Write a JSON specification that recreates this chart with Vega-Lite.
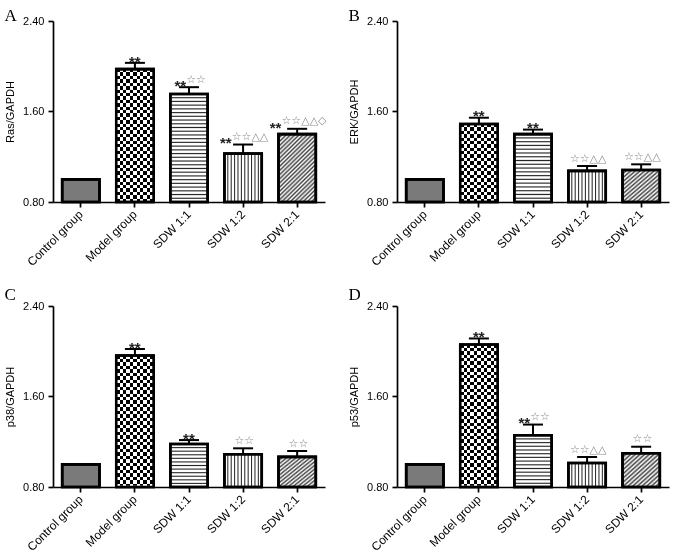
{
  "$schema": "https://vega.github.io/schema/vega-lite/v6.json",
  "padding": {"left": 4, "top": 7, "right": 2, "bottom": 0},
  "background": "white",
  "datasets": {
    "bars": [
      {"panel": "A", "group": "Control group", "value": 1.0, "upper": 1.0, "black": "", "gray": ""},
      {"panel": "A", "group": "Model group", "value": 1.975, "upper": 2.03, "black": "**", "gray": ""},
      {"panel": "A", "group": "SDW 1:1", "value": 1.755, "upper": 1.815, "black": "**", "gray": "☆☆"},
      {"panel": "A", "group": "SDW 1:2", "value": 1.228, "upper": 1.308, "black": "**", "gray": "☆☆△△"},
      {"panel": "A", "group": "SDW 2:1", "value": 1.4, "upper": 1.447, "black": "**", "gray": "☆☆△△◇"},
      {"panel": "B", "group": "Control group", "value": 1.0, "upper": 1.0, "black": "", "gray": ""},
      {"panel": "B", "group": "Model group", "value": 1.49, "upper": 1.545, "black": "**", "gray": ""},
      {"panel": "B", "group": "SDW 1:1", "value": 1.4, "upper": 1.44, "black": "**", "gray": ""},
      {"panel": "B", "group": "SDW 1:2", "value": 1.075, "upper": 1.118, "black": "", "gray": "☆☆△△"},
      {"panel": "B", "group": "SDW 2:1", "value": 1.083, "upper": 1.133, "black": "", "gray": "☆☆△△"},
      {"panel": "C", "group": "Control group", "value": 1.0, "upper": 1.0, "black": "", "gray": ""},
      {"panel": "C", "group": "Model group", "value": 1.963, "upper": 2.02, "black": "**", "gray": ""},
      {"panel": "C", "group": "SDW 1:1", "value": 1.18, "upper": 1.215, "black": "**", "gray": ""},
      {"panel": "C", "group": "SDW 1:2", "value": 1.09, "upper": 1.142, "black": "", "gray": "☆☆"},
      {"panel": "C", "group": "SDW 2:1", "value": 1.066, "upper": 1.118, "black": "", "gray": "☆☆"},
      {"panel": "D", "group": "Control group", "value": 1.0, "upper": 1.0, "black": "", "gray": ""},
      {"panel": "D", "group": "Model group", "value": 2.06, "upper": 2.113, "black": "**", "gray": ""},
      {"panel": "D", "group": "SDW 1:1", "value": 1.258, "upper": 1.352, "black": "**", "gray": "☆☆"},
      {"panel": "D", "group": "SDW 1:2", "value": 1.012, "upper": 1.065, "black": "", "gray": "☆☆△△"},
      {"panel": "D", "group": "SDW 2:1", "value": 1.098, "upper": 1.156, "black": "", "gray": "☆☆"}
    ]
  },
  "columns": 2,
  "bounds": "flush",
  "spacing": {"row": 104, "column": 72},
  "concat": [
    {
      "title": {"text": "A"},
      "width": 272,
      "height": 181,
      "data": {"name": "bars"},
      "transform": [{"filter": "datum.panel == 'A'"}],
      "encoding": {"x": {"field": "group", "type": "nominal", "sort": null, "scale": {"domain": ["Control group", "Model group", "SDW 1:1", "SDW 1:2", "SDW 2:1"], "paddingInner": 0.31, "paddingOuter": 0.17}}},
      "layer": [
        {
          "mark": {"type": "bar", "stroke": "black", "strokeWidth": 2.6},
          "encoding": {
            "y": {"field": "value", "type": "quantitative", "scale": {"domain": [0.8, 2.4], "zero": false, "nice": false}, "axis": {"title": "Ras/GAPDH", "values": [0.8, 1.6, 2.4], "format": ".2f"}},
            "y2": {"datum": 0.8},
            "fill": {
              "condition": [
                {"test": "datum.group == 'Model group'", "value": {"gradient": "linear", "x1": 0, "y1": 0, "x2": 1, "y2": 0, "stops": [
                  {"offset": 0, "color": "#000"}, {"offset": 0.0909, "color": "#000"}, {"offset": 0.0909, "color": "#fff"}, {"offset": 0.1818, "color": "#fff"},
                  {"offset": 0.1818, "color": "#000"}, {"offset": 0.2727, "color": "#000"}, {"offset": 0.2727, "color": "#fff"}, {"offset": 0.3636, "color": "#fff"},
                  {"offset": 0.3636, "color": "#000"}, {"offset": 0.4545, "color": "#000"}, {"offset": 0.4545, "color": "#fff"}, {"offset": 0.5455, "color": "#fff"},
                  {"offset": 0.5455, "color": "#000"}, {"offset": 0.6364, "color": "#000"}, {"offset": 0.6364, "color": "#fff"}, {"offset": 0.7273, "color": "#fff"},
                  {"offset": 0.7273, "color": "#000"}, {"offset": 0.8182, "color": "#000"}, {"offset": 0.8182, "color": "#fff"}, {"offset": 0.9091, "color": "#fff"},
                  {"offset": 0.9091, "color": "#000"}, {"offset": 1, "color": "#000"}]}},
                {"test": "datum.group == 'SDW 1:1'", "value": {"gradient": "linear", "x1": 0, "y1": 0, "x2": 0, "y2": 1, "stops": [
                  {"offset": 0, "color": "#222"}, {"offset": 0.0103, "color": "#fff"}, {"offset": 0.0241, "color": "#fff"},
                  {"offset": 0.0345, "color": "#222"}, {"offset": 0.0448, "color": "#fff"}, {"offset": 0.0586, "color": "#fff"},
                  {"offset": 0.069, "color": "#222"}, {"offset": 0.0793, "color": "#fff"}, {"offset": 0.0931, "color": "#fff"},
                  {"offset": 0.1034, "color": "#222"}, {"offset": 0.1138, "color": "#fff"}, {"offset": 0.1276, "color": "#fff"},
                  {"offset": 0.1379, "color": "#222"}, {"offset": 0.1483, "color": "#fff"}, {"offset": 0.1621, "color": "#fff"},
                  {"offset": 0.1724, "color": "#222"}, {"offset": 0.1828, "color": "#fff"}, {"offset": 0.1966, "color": "#fff"},
                  {"offset": 0.2069, "color": "#222"}, {"offset": 0.2172, "color": "#fff"}, {"offset": 0.231, "color": "#fff"},
                  {"offset": 0.2414, "color": "#222"}, {"offset": 0.2517, "color": "#fff"}, {"offset": 0.2655, "color": "#fff"},
                  {"offset": 0.2759, "color": "#222"}, {"offset": 0.2862, "color": "#fff"}, {"offset": 0.3, "color": "#fff"},
                  {"offset": 0.3103, "color": "#222"}, {"offset": 0.3207, "color": "#fff"}, {"offset": 0.3345, "color": "#fff"},
                  {"offset": 0.3448, "color": "#222"}, {"offset": 0.3552, "color": "#fff"}, {"offset": 0.369, "color": "#fff"},
                  {"offset": 0.3793, "color": "#222"}, {"offset": 0.3897, "color": "#fff"}, {"offset": 0.4034, "color": "#fff"},
                  {"offset": 0.4138, "color": "#222"}, {"offset": 0.4241, "color": "#fff"}, {"offset": 0.4379, "color": "#fff"},
                  {"offset": 0.4483, "color": "#222"}, {"offset": 0.4586, "color": "#fff"}, {"offset": 0.4724, "color": "#fff"},
                  {"offset": 0.4828, "color": "#222"}, {"offset": 0.4931, "color": "#fff"}, {"offset": 0.5069, "color": "#fff"},
                  {"offset": 0.5172, "color": "#222"}, {"offset": 0.5276, "color": "#fff"}, {"offset": 0.5414, "color": "#fff"},
                  {"offset": 0.5517, "color": "#222"}, {"offset": 0.5621, "color": "#fff"}, {"offset": 0.5759, "color": "#fff"},
                  {"offset": 0.5862, "color": "#222"}, {"offset": 0.5966, "color": "#fff"}, {"offset": 0.6103, "color": "#fff"},
                  {"offset": 0.6207, "color": "#222"}, {"offset": 0.631, "color": "#fff"}, {"offset": 0.6448, "color": "#fff"},
                  {"offset": 0.6552, "color": "#222"}, {"offset": 0.6655, "color": "#fff"}, {"offset": 0.6793, "color": "#fff"},
                  {"offset": 0.6897, "color": "#222"}, {"offset": 0.7, "color": "#fff"}, {"offset": 0.7138, "color": "#fff"},
                  {"offset": 0.7241, "color": "#222"}, {"offset": 0.7345, "color": "#fff"}, {"offset": 0.7483, "color": "#fff"},
                  {"offset": 0.7586, "color": "#222"}, {"offset": 0.769, "color": "#fff"}, {"offset": 0.7828, "color": "#fff"},
                  {"offset": 0.7931, "color": "#222"}, {"offset": 0.8034, "color": "#fff"}, {"offset": 0.8172, "color": "#fff"},
                  {"offset": 0.8276, "color": "#222"}, {"offset": 0.8379, "color": "#fff"}, {"offset": 0.8517, "color": "#fff"},
                  {"offset": 0.8621, "color": "#222"}, {"offset": 0.8724, "color": "#fff"}, {"offset": 0.8862, "color": "#fff"},
                  {"offset": 0.8966, "color": "#222"}, {"offset": 0.9069, "color": "#fff"}, {"offset": 0.9207, "color": "#fff"},
                  {"offset": 0.931, "color": "#222"}, {"offset": 0.9414, "color": "#fff"}, {"offset": 0.9552, "color": "#fff"},
                  {"offset": 0.9655, "color": "#222"}, {"offset": 0.9759, "color": "#fff"}, {"offset": 0.9897, "color": "#fff"},
                  {"offset": 1, "color": "#222"}]}},
                {"test": "datum.group == 'SDW 1:2'", "value": {"gradient": "linear", "x1": 0, "y1": 0, "x2": 1, "y2": 0, "stops": [
                  {"offset": 0, "color": "#222"}, {"offset": 0.0273, "color": "#fff"}, {"offset": 0.0636, "color": "#fff"},
                  {"offset": 0.0909, "color": "#222"}, {"offset": 0.1182, "color": "#fff"}, {"offset": 0.1545, "color": "#fff"},
                  {"offset": 0.1818, "color": "#222"}, {"offset": 0.2091, "color": "#fff"}, {"offset": 0.2455, "color": "#fff"},
                  {"offset": 0.2727, "color": "#222"}, {"offset": 0.3, "color": "#fff"}, {"offset": 0.3364, "color": "#fff"},
                  {"offset": 0.3636, "color": "#222"}, {"offset": 0.3909, "color": "#fff"}, {"offset": 0.4273, "color": "#fff"},
                  {"offset": 0.4545, "color": "#222"}, {"offset": 0.4818, "color": "#fff"}, {"offset": 0.5182, "color": "#fff"},
                  {"offset": 0.5455, "color": "#222"}, {"offset": 0.5727, "color": "#fff"}, {"offset": 0.6091, "color": "#fff"},
                  {"offset": 0.6364, "color": "#222"}, {"offset": 0.6636, "color": "#fff"}, {"offset": 0.7, "color": "#fff"},
                  {"offset": 0.7273, "color": "#222"}, {"offset": 0.7545, "color": "#fff"}, {"offset": 0.7909, "color": "#fff"},
                  {"offset": 0.8182, "color": "#222"}, {"offset": 0.8455, "color": "#fff"}, {"offset": 0.8818, "color": "#fff"},
                  {"offset": 0.9091, "color": "#222"}, {"offset": 0.9364, "color": "#fff"}, {"offset": 0.9727, "color": "#fff"},
                  {"offset": 1, "color": "#222"}]}},
                {"test": "datum.group == 'SDW 2:1'", "value": {"gradient": "linear", "x1": 0, "y1": 0, "x2": 0.64, "y2": 1.19, "stops": [
                  {"offset": 0, "color": "#444"}, {"offset": 0.02, "color": "#fff"}, {"offset": 0.04, "color": "#444"}, {"offset": 0.06, "color": "#fff"},
                  {"offset": 0.08, "color": "#444"}, {"offset": 0.1, "color": "#fff"}, {"offset": 0.12, "color": "#444"}, {"offset": 0.14, "color": "#fff"},
                  {"offset": 0.16, "color": "#444"}, {"offset": 0.18, "color": "#fff"}, {"offset": 0.2, "color": "#444"}, {"offset": 0.22, "color": "#fff"},
                  {"offset": 0.24, "color": "#444"}, {"offset": 0.26, "color": "#fff"}, {"offset": 0.28, "color": "#444"}, {"offset": 0.3, "color": "#fff"},
                  {"offset": 0.32, "color": "#444"}, {"offset": 0.34, "color": "#fff"}, {"offset": 0.36, "color": "#444"}, {"offset": 0.38, "color": "#fff"},
                  {"offset": 0.4, "color": "#444"}, {"offset": 0.42, "color": "#fff"}, {"offset": 0.44, "color": "#444"}, {"offset": 0.46, "color": "#fff"},
                  {"offset": 0.48, "color": "#444"}, {"offset": 0.5, "color": "#fff"}, {"offset": 0.52, "color": "#444"}, {"offset": 0.54, "color": "#fff"},
                  {"offset": 0.56, "color": "#444"}, {"offset": 0.58, "color": "#fff"}, {"offset": 0.6, "color": "#444"}, {"offset": 0.62, "color": "#fff"},
                  {"offset": 0.64, "color": "#444"}, {"offset": 0.66, "color": "#fff"}, {"offset": 0.68, "color": "#444"}, {"offset": 0.7, "color": "#fff"},
                  {"offset": 0.72, "color": "#444"}, {"offset": 0.74, "color": "#fff"}, {"offset": 0.76, "color": "#444"}, {"offset": 0.78, "color": "#fff"},
                  {"offset": 0.8, "color": "#444"}, {"offset": 0.82, "color": "#fff"}, {"offset": 0.84, "color": "#444"}, {"offset": 0.86, "color": "#fff"},
                  {"offset": 0.88, "color": "#444"}, {"offset": 0.9, "color": "#fff"}, {"offset": 0.92, "color": "#444"}, {"offset": 0.94, "color": "#fff"},
                  {"offset": 0.96, "color": "#444"}, {"offset": 0.98, "color": "#fff"}, {"offset": 1, "color": "#444"}]}}
              ],
              "value": "#7a7a7a"
            }
          }
        },
        {
          "transform": [{"filter": "datum.group == 'Model group'"}],
          "mark": {"type": "bar", "blend": "difference", "strokeWidth": 0},
          "encoding": {
            "y": {"field": "value", "type": "quantitative", "scale": {"domain": [0.8, 2.4], "zero": false, "nice": false}, "axis": {"title": "Ras/GAPDH", "values": [0.8, 1.6, 2.4], "format": ".2f"}},
            "y2": {"datum": 0.8},
            "fill": {"value": {"gradient": "linear", "x1": 0, "y1": 0, "x2": 0, "y2": 1, "stops": [
              {"offset": 0, "color": "#000"}, {"offset": 0.0256, "color": "#000"}, {"offset": 0.0256, "color": "#fff"}, {"offset": 0.0513, "color": "#fff"},
              {"offset": 0.0513, "color": "#000"}, {"offset": 0.0769, "color": "#000"}, {"offset": 0.0769, "color": "#fff"}, {"offset": 0.1026, "color": "#fff"},
              {"offset": 0.1026, "color": "#000"}, {"offset": 0.1282, "color": "#000"}, {"offset": 0.1282, "color": "#fff"}, {"offset": 0.1538, "color": "#fff"},
              {"offset": 0.1538, "color": "#000"}, {"offset": 0.1795, "color": "#000"}, {"offset": 0.1795, "color": "#fff"}, {"offset": 0.2051, "color": "#fff"},
              {"offset": 0.2051, "color": "#000"}, {"offset": 0.2308, "color": "#000"}, {"offset": 0.2308, "color": "#fff"}, {"offset": 0.2564, "color": "#fff"},
              {"offset": 0.2564, "color": "#000"}, {"offset": 0.2821, "color": "#000"}, {"offset": 0.2821, "color": "#fff"}, {"offset": 0.3077, "color": "#fff"},
              {"offset": 0.3077, "color": "#000"}, {"offset": 0.3333, "color": "#000"}, {"offset": 0.3333, "color": "#fff"}, {"offset": 0.359, "color": "#fff"},
              {"offset": 0.359, "color": "#000"}, {"offset": 0.3846, "color": "#000"}, {"offset": 0.3846, "color": "#fff"}, {"offset": 0.4103, "color": "#fff"},
              {"offset": 0.4103, "color": "#000"}, {"offset": 0.4359, "color": "#000"}, {"offset": 0.4359, "color": "#fff"}, {"offset": 0.4615, "color": "#fff"},
              {"offset": 0.4615, "color": "#000"}, {"offset": 0.4872, "color": "#000"}, {"offset": 0.4872, "color": "#fff"}, {"offset": 0.5128, "color": "#fff"},
              {"offset": 0.5128, "color": "#000"}, {"offset": 0.5385, "color": "#000"}, {"offset": 0.5385, "color": "#fff"}, {"offset": 0.5641, "color": "#fff"},
              {"offset": 0.5641, "color": "#000"}, {"offset": 0.5897, "color": "#000"}, {"offset": 0.5897, "color": "#fff"}, {"offset": 0.6154, "color": "#fff"},
              {"offset": 0.6154, "color": "#000"}, {"offset": 0.641, "color": "#000"}, {"offset": 0.641, "color": "#fff"}, {"offset": 0.6667, "color": "#fff"},
              {"offset": 0.6667, "color": "#000"}, {"offset": 0.6923, "color": "#000"}, {"offset": 0.6923, "color": "#fff"}, {"offset": 0.7179, "color": "#fff"},
              {"offset": 0.7179, "color": "#000"}, {"offset": 0.7436, "color": "#000"}, {"offset": 0.7436, "color": "#fff"}, {"offset": 0.7692, "color": "#fff"},
              {"offset": 0.7692, "color": "#000"}, {"offset": 0.7949, "color": "#000"}, {"offset": 0.7949, "color": "#fff"}, {"offset": 0.8205, "color": "#fff"},
              {"offset": 0.8205, "color": "#000"}, {"offset": 0.8462, "color": "#000"}, {"offset": 0.8462, "color": "#fff"}, {"offset": 0.8718, "color": "#fff"},
              {"offset": 0.8718, "color": "#000"}, {"offset": 0.8974, "color": "#000"}, {"offset": 0.8974, "color": "#fff"}, {"offset": 0.9231, "color": "#fff"},
              {"offset": 0.9231, "color": "#000"}, {"offset": 0.9487, "color": "#000"}, {"offset": 0.9487, "color": "#fff"}, {"offset": 0.9744, "color": "#fff"},
              {"offset": 0.9744, "color": "#000"}, {"offset": 1, "color": "#000"}]}}
          }
        },
        {"mark": {"type": "bar", "fill": "white", "fillOpacity": 0, "stroke": "black", "strokeWidth": 2.6}, "encoding": {"y": {"field": "value", "type": "quantitative", "scale": {"domain": [0.8, 2.4], "zero": false, "nice": false}, "axis": {"title": "Ras/GAPDH", "values": [0.8, 1.6, 2.4], "format": ".2f"}}, "y2": {"datum": 0.8}}},
        {"transform": [{"filter": "datum.upper > datum.value"}], "mark": {"type": "rule", "color": "black", "strokeWidth": 2}, "encoding": {"y": {"field": "value", "type": "quantitative", "scale": {"domain": [0.8, 2.4], "zero": false, "nice": false}, "axis": {"title": "Ras/GAPDH", "values": [0.8, 1.6, 2.4], "format": ".2f"}}, "y2": {"field": "upper"}}},
        {"transform": [{"filter": "datum.upper > datum.value"}], "mark": {"type": "tick", "color": "black", "opacity": 1, "size": 20, "thickness": 2}, "encoding": {"y": {"field": "upper", "type": "quantitative", "scale": {"domain": [0.8, 2.4], "zero": false, "nice": false}, "axis": {"title": "Ras/GAPDH", "values": [0.8, 1.6, 2.4], "format": ".2f"}}}},
        {"mark": {"type": "text", "align": "right", "baseline": "alphabetic", "font": "Liberation Sans", "fontWeight": "bold", "fontSize": 15, "color": "#222", "dy": 3.7, "dx": {"expr": "(length(datum.black)*5.8 - length(datum.gray)*8.6)/2"}}, "encoding": {"y": {"field": "upper", "type": "quantitative", "scale": {"domain": [0.8, 2.4], "zero": false, "nice": false}, "axis": {"title": "Ras/GAPDH", "values": [0.8, 1.6, 2.4], "format": ".2f"}}, "text": {"field": "black"}}},
        {"mark": {"type": "text", "align": "left", "baseline": "alphabetic", "font": "DejaVu Sans", "fontSize": 11, "color": "#8a8a8a", "dy": -4.5, "dx": {"expr": "(length(datum.black)*5.8 - length(datum.gray)*8.6)/2"}}, "encoding": {"y": {"field": "upper", "type": "quantitative", "scale": {"domain": [0.8, 2.4], "zero": false, "nice": false}, "axis": {"title": "Ras/GAPDH", "values": [0.8, 1.6, 2.4], "format": ".2f"}}, "text": {"field": "gray"}}}
      ]
    },
    {
      "title": {"text": "B"},
      "width": 272,
      "height": 181,
      "data": {"name": "bars"},
      "transform": [{"filter": "datum.panel == 'B'"}],
      "encoding": {"x": {"field": "group", "type": "nominal", "sort": null, "scale": {"domain": ["Control group", "Model group", "SDW 1:1", "SDW 1:2", "SDW 2:1"], "paddingInner": 0.31, "paddingOuter": 0.17}}},
      "layer": [
        {
          "mark": {"type": "bar", "stroke": "black", "strokeWidth": 2.6},
          "encoding": {
            "y": {"field": "value", "type": "quantitative", "scale": {"domain": [0.8, 2.4], "zero": false, "nice": false}, "axis": {"title": "ERK/GAPDH", "values": [0.8, 1.6, 2.4], "format": ".2f"}},
            "y2": {"datum": 0.8},
            "fill": {
              "condition": [
                {"test": "datum.group == 'Model group'", "value": {"gradient": "linear", "x1": 0, "y1": 0, "x2": 1, "y2": 0, "stops": [
                  {"offset": 0, "color": "#000"}, {"offset": 0.0909, "color": "#000"}, {"offset": 0.0909, "color": "#fff"}, {"offset": 0.1818, "color": "#fff"},
                  {"offset": 0.1818, "color": "#000"}, {"offset": 0.2727, "color": "#000"}, {"offset": 0.2727, "color": "#fff"}, {"offset": 0.3636, "color": "#fff"},
                  {"offset": 0.3636, "color": "#000"}, {"offset": 0.4545, "color": "#000"}, {"offset": 0.4545, "color": "#fff"}, {"offset": 0.5455, "color": "#fff"},
                  {"offset": 0.5455, "color": "#000"}, {"offset": 0.6364, "color": "#000"}, {"offset": 0.6364, "color": "#fff"}, {"offset": 0.7273, "color": "#fff"},
                  {"offset": 0.7273, "color": "#000"}, {"offset": 0.8182, "color": "#000"}, {"offset": 0.8182, "color": "#fff"}, {"offset": 0.9091, "color": "#fff"},
                  {"offset": 0.9091, "color": "#000"}, {"offset": 1, "color": "#000"}]}},
                {"test": "datum.group == 'SDW 1:1'", "value": {"gradient": "linear", "x1": 0, "y1": 0, "x2": 0, "y2": 1, "stops": [
                  {"offset": 0, "color": "#222"}, {"offset": 0.0167, "color": "#fff"}, {"offset": 0.0389, "color": "#fff"},
                  {"offset": 0.0556, "color": "#222"}, {"offset": 0.0722, "color": "#fff"}, {"offset": 0.0944, "color": "#fff"},
                  {"offset": 0.1111, "color": "#222"}, {"offset": 0.1278, "color": "#fff"}, {"offset": 0.15, "color": "#fff"},
                  {"offset": 0.1667, "color": "#222"}, {"offset": 0.1833, "color": "#fff"}, {"offset": 0.2056, "color": "#fff"},
                  {"offset": 0.2222, "color": "#222"}, {"offset": 0.2389, "color": "#fff"}, {"offset": 0.2611, "color": "#fff"},
                  {"offset": 0.2778, "color": "#222"}, {"offset": 0.2944, "color": "#fff"}, {"offset": 0.3167, "color": "#fff"},
                  {"offset": 0.3333, "color": "#222"}, {"offset": 0.35, "color": "#fff"}, {"offset": 0.3722, "color": "#fff"},
                  {"offset": 0.3889, "color": "#222"}, {"offset": 0.4056, "color": "#fff"}, {"offset": 0.4278, "color": "#fff"},
                  {"offset": 0.4444, "color": "#222"}, {"offset": 0.4611, "color": "#fff"}, {"offset": 0.4833, "color": "#fff"},
                  {"offset": 0.5, "color": "#222"}, {"offset": 0.5167, "color": "#fff"}, {"offset": 0.5389, "color": "#fff"},
                  {"offset": 0.5556, "color": "#222"}, {"offset": 0.5722, "color": "#fff"}, {"offset": 0.5944, "color": "#fff"},
                  {"offset": 0.6111, "color": "#222"}, {"offset": 0.6278, "color": "#fff"}, {"offset": 0.65, "color": "#fff"},
                  {"offset": 0.6667, "color": "#222"}, {"offset": 0.6833, "color": "#fff"}, {"offset": 0.7056, "color": "#fff"},
                  {"offset": 0.7222, "color": "#222"}, {"offset": 0.7389, "color": "#fff"}, {"offset": 0.7611, "color": "#fff"},
                  {"offset": 0.7778, "color": "#222"}, {"offset": 0.7944, "color": "#fff"}, {"offset": 0.8167, "color": "#fff"},
                  {"offset": 0.8333, "color": "#222"}, {"offset": 0.85, "color": "#fff"}, {"offset": 0.8722, "color": "#fff"},
                  {"offset": 0.8889, "color": "#222"}, {"offset": 0.9056, "color": "#fff"}, {"offset": 0.9278, "color": "#fff"},
                  {"offset": 0.9444, "color": "#222"}, {"offset": 0.9611, "color": "#fff"}, {"offset": 0.9833, "color": "#fff"},
                  {"offset": 1, "color": "#222"}]}},
                {"test": "datum.group == 'SDW 1:2'", "value": {"gradient": "linear", "x1": 0, "y1": 0, "x2": 1, "y2": 0, "stops": [
                  {"offset": 0, "color": "#222"}, {"offset": 0.0273, "color": "#fff"}, {"offset": 0.0636, "color": "#fff"},
                  {"offset": 0.0909, "color": "#222"}, {"offset": 0.1182, "color": "#fff"}, {"offset": 0.1545, "color": "#fff"},
                  {"offset": 0.1818, "color": "#222"}, {"offset": 0.2091, "color": "#fff"}, {"offset": 0.2455, "color": "#fff"},
                  {"offset": 0.2727, "color": "#222"}, {"offset": 0.3, "color": "#fff"}, {"offset": 0.3364, "color": "#fff"},
                  {"offset": 0.3636, "color": "#222"}, {"offset": 0.3909, "color": "#fff"}, {"offset": 0.4273, "color": "#fff"},
                  {"offset": 0.4545, "color": "#222"}, {"offset": 0.4818, "color": "#fff"}, {"offset": 0.5182, "color": "#fff"},
                  {"offset": 0.5455, "color": "#222"}, {"offset": 0.5727, "color": "#fff"}, {"offset": 0.6091, "color": "#fff"},
                  {"offset": 0.6364, "color": "#222"}, {"offset": 0.6636, "color": "#fff"}, {"offset": 0.7, "color": "#fff"},
                  {"offset": 0.7273, "color": "#222"}, {"offset": 0.7545, "color": "#fff"}, {"offset": 0.7909, "color": "#fff"},
                  {"offset": 0.8182, "color": "#222"}, {"offset": 0.8455, "color": "#fff"}, {"offset": 0.8818, "color": "#fff"},
                  {"offset": 0.9091, "color": "#222"}, {"offset": 0.9364, "color": "#fff"}, {"offset": 0.9727, "color": "#fff"},
                  {"offset": 1, "color": "#222"}]}},
                {"test": "datum.group == 'SDW 2:1'", "value": {"gradient": "linear", "x1": 0, "y1": 0, "x2": 1, "y2": 1, "stops": [
                  {"offset": 0, "color": "#444"}, {"offset": 0.03125, "color": "#fff"}, {"offset": 0.0625, "color": "#444"}, {"offset": 0.09375, "color": "#fff"},
                  {"offset": 0.125, "color": "#444"}, {"offset": 0.15625, "color": "#fff"}, {"offset": 0.1875, "color": "#444"}, {"offset": 0.21875, "color": "#fff"},
                  {"offset": 0.25, "color": "#444"}, {"offset": 0.28125, "color": "#fff"}, {"offset": 0.3125, "color": "#444"}, {"offset": 0.34375, "color": "#fff"},
                  {"offset": 0.375, "color": "#444"}, {"offset": 0.40625, "color": "#fff"}, {"offset": 0.4375, "color": "#444"}, {"offset": 0.46875, "color": "#fff"},
                  {"offset": 0.5, "color": "#444"}, {"offset": 0.53125, "color": "#fff"}, {"offset": 0.5625, "color": "#444"}, {"offset": 0.59375, "color": "#fff"},
                  {"offset": 0.625, "color": "#444"}, {"offset": 0.65625, "color": "#fff"}, {"offset": 0.6875, "color": "#444"}, {"offset": 0.71875, "color": "#fff"},
                  {"offset": 0.75, "color": "#444"}, {"offset": 0.78125, "color": "#fff"}, {"offset": 0.8125, "color": "#444"}, {"offset": 0.84375, "color": "#fff"},
                  {"offset": 0.875, "color": "#444"}, {"offset": 0.90625, "color": "#fff"}, {"offset": 0.9375, "color": "#444"}, {"offset": 0.96875, "color": "#fff"},
                  {"offset": 1, "color": "#444"}]}}
              ],
              "value": "#7a7a7a"
            }
          }
        },
        {
          "transform": [{"filter": "datum.group == 'Model group'"}],
          "mark": {"type": "bar", "blend": "difference", "strokeWidth": 0},
          "encoding": {
            "y": {"field": "value", "type": "quantitative", "scale": {"domain": [0.8, 2.4], "zero": false, "nice": false}, "axis": {"title": "ERK/GAPDH", "values": [0.8, 1.6, 2.4], "format": ".2f"}},
            "y2": {"datum": 0.8},
            "fill": {"value": {"gradient": "linear", "x1": 0, "y1": 0, "x2": 0, "y2": 1, "stops": [
              {"offset": 0, "color": "#000"}, {"offset": 0.0435, "color": "#000"}, {"offset": 0.0435, "color": "#fff"}, {"offset": 0.087, "color": "#fff"},
              {"offset": 0.087, "color": "#000"}, {"offset": 0.1304, "color": "#000"}, {"offset": 0.1304, "color": "#fff"}, {"offset": 0.1739, "color": "#fff"},
              {"offset": 0.1739, "color": "#000"}, {"offset": 0.2174, "color": "#000"}, {"offset": 0.2174, "color": "#fff"}, {"offset": 0.2609, "color": "#fff"},
              {"offset": 0.2609, "color": "#000"}, {"offset": 0.3043, "color": "#000"}, {"offset": 0.3043, "color": "#fff"}, {"offset": 0.3478, "color": "#fff"},
              {"offset": 0.3478, "color": "#000"}, {"offset": 0.3913, "color": "#000"}, {"offset": 0.3913, "color": "#fff"}, {"offset": 0.4348, "color": "#fff"},
              {"offset": 0.4348, "color": "#000"}, {"offset": 0.4783, "color": "#000"}, {"offset": 0.4783, "color": "#fff"}, {"offset": 0.5217, "color": "#fff"},
              {"offset": 0.5217, "color": "#000"}, {"offset": 0.5652, "color": "#000"}, {"offset": 0.5652, "color": "#fff"}, {"offset": 0.6087, "color": "#fff"},
              {"offset": 0.6087, "color": "#000"}, {"offset": 0.6522, "color": "#000"}, {"offset": 0.6522, "color": "#fff"}, {"offset": 0.6957, "color": "#fff"},
              {"offset": 0.6957, "color": "#000"}, {"offset": 0.7391, "color": "#000"}, {"offset": 0.7391, "color": "#fff"}, {"offset": 0.7826, "color": "#fff"},
              {"offset": 0.7826, "color": "#000"}, {"offset": 0.8261, "color": "#000"}, {"offset": 0.8261, "color": "#fff"}, {"offset": 0.8696, "color": "#fff"},
              {"offset": 0.8696, "color": "#000"}, {"offset": 0.913, "color": "#000"}, {"offset": 0.913, "color": "#fff"}, {"offset": 0.9565, "color": "#fff"},
              {"offset": 0.9565, "color": "#000"}, {"offset": 1, "color": "#000"}]}}
          }
        },
        {"mark": {"type": "bar", "fill": "white", "fillOpacity": 0, "stroke": "black", "strokeWidth": 2.6}, "encoding": {"y": {"field": "value", "type": "quantitative", "scale": {"domain": [0.8, 2.4], "zero": false, "nice": false}, "axis": {"title": "ERK/GAPDH", "values": [0.8, 1.6, 2.4], "format": ".2f"}}, "y2": {"datum": 0.8}}},
        {"transform": [{"filter": "datum.upper > datum.value"}], "mark": {"type": "rule", "color": "black", "strokeWidth": 2}, "encoding": {"y": {"field": "value", "type": "quantitative", "scale": {"domain": [0.8, 2.4], "zero": false, "nice": false}, "axis": {"title": "ERK/GAPDH", "values": [0.8, 1.6, 2.4], "format": ".2f"}}, "y2": {"field": "upper"}}},
        {"transform": [{"filter": "datum.upper > datum.value"}], "mark": {"type": "tick", "color": "black", "opacity": 1, "size": 20, "thickness": 2}, "encoding": {"y": {"field": "upper", "type": "quantitative", "scale": {"domain": [0.8, 2.4], "zero": false, "nice": false}, "axis": {"title": "ERK/GAPDH", "values": [0.8, 1.6, 2.4], "format": ".2f"}}}},
        {"mark": {"type": "text", "align": "right", "baseline": "alphabetic", "font": "Liberation Sans", "fontWeight": "bold", "fontSize": 15, "color": "#222", "dy": 3.7, "dx": {"expr": "(length(datum.black)*5.8 - length(datum.gray)*8.6)/2"}}, "encoding": {"y": {"field": "upper", "type": "quantitative", "scale": {"domain": [0.8, 2.4], "zero": false, "nice": false}, "axis": {"title": "ERK/GAPDH", "values": [0.8, 1.6, 2.4], "format": ".2f"}}, "text": {"field": "black"}}},
        {"mark": {"type": "text", "align": "left", "baseline": "alphabetic", "font": "DejaVu Sans", "fontSize": 11, "color": "#8a8a8a", "dy": -4.5, "dx": {"expr": "(length(datum.black)*5.8 - length(datum.gray)*8.6)/2"}}, "encoding": {"y": {"field": "upper", "type": "quantitative", "scale": {"domain": [0.8, 2.4], "zero": false, "nice": false}, "axis": {"title": "ERK/GAPDH", "values": [0.8, 1.6, 2.4], "format": ".2f"}}, "text": {"field": "gray"}}}
      ]
    },
    {
      "title": {"text": "C", "offset": -4},
      "width": 272,
      "height": 181,
      "data": {"name": "bars"},
      "transform": [{"filter": "datum.panel == 'C'"}],
      "encoding": {"x": {"field": "group", "type": "nominal", "sort": null, "scale": {"domain": ["Control group", "Model group", "SDW 1:1", "SDW 1:2", "SDW 2:1"], "paddingInner": 0.31, "paddingOuter": 0.17}}},
      "layer": [
        {
          "mark": {"type": "bar", "stroke": "black", "strokeWidth": 2.6},
          "encoding": {
            "y": {"field": "value", "type": "quantitative", "scale": {"domain": [0.8, 2.4], "zero": false, "nice": false}, "axis": {"title": "p38/GAPDH", "values": [0.8, 1.6, 2.4], "format": ".2f"}},
            "y2": {"datum": 0.8},
            "fill": {
              "condition": [
                {"test": "datum.group == 'Model group'", "value": {"gradient": "linear", "x1": 0, "y1": 0, "x2": 1, "y2": 0, "stops": [
                  {"offset": 0, "color": "#000"}, {"offset": 0.0909, "color": "#000"}, {"offset": 0.0909, "color": "#fff"}, {"offset": 0.1818, "color": "#fff"},
                  {"offset": 0.1818, "color": "#000"}, {"offset": 0.2727, "color": "#000"}, {"offset": 0.2727, "color": "#fff"}, {"offset": 0.3636, "color": "#fff"},
                  {"offset": 0.3636, "color": "#000"}, {"offset": 0.4545, "color": "#000"}, {"offset": 0.4545, "color": "#fff"}, {"offset": 0.5455, "color": "#fff"},
                  {"offset": 0.5455, "color": "#000"}, {"offset": 0.6364, "color": "#000"}, {"offset": 0.6364, "color": "#fff"}, {"offset": 0.7273, "color": "#fff"},
                  {"offset": 0.7273, "color": "#000"}, {"offset": 0.8182, "color": "#000"}, {"offset": 0.8182, "color": "#fff"}, {"offset": 0.9091, "color": "#fff"},
                  {"offset": 0.9091, "color": "#000"}, {"offset": 1, "color": "#000"}]}},
                {"test": "datum.group == 'SDW 1:1'", "value": {"gradient": "linear", "x1": 0, "y1": 0, "x2": 0, "y2": 1, "stops": [
                  {"offset": 0, "color": "#222"}, {"offset": 0.025, "color": "#fff"}, {"offset": 0.0583, "color": "#fff"},
                  {"offset": 0.0833, "color": "#222"}, {"offset": 0.1083, "color": "#fff"}, {"offset": 0.1417, "color": "#fff"},
                  {"offset": 0.1667, "color": "#222"}, {"offset": 0.1917, "color": "#fff"}, {"offset": 0.225, "color": "#fff"},
                  {"offset": 0.25, "color": "#222"}, {"offset": 0.275, "color": "#fff"}, {"offset": 0.3083, "color": "#fff"},
                  {"offset": 0.3333, "color": "#222"}, {"offset": 0.3583, "color": "#fff"}, {"offset": 0.3917, "color": "#fff"},
                  {"offset": 0.4167, "color": "#222"}, {"offset": 0.4417, "color": "#fff"}, {"offset": 0.475, "color": "#fff"},
                  {"offset": 0.5, "color": "#222"}, {"offset": 0.525, "color": "#fff"}, {"offset": 0.5583, "color": "#fff"},
                  {"offset": 0.5833, "color": "#222"}, {"offset": 0.6083, "color": "#fff"}, {"offset": 0.6417, "color": "#fff"},
                  {"offset": 0.6667, "color": "#222"}, {"offset": 0.6917, "color": "#fff"}, {"offset": 0.725, "color": "#fff"},
                  {"offset": 0.75, "color": "#222"}, {"offset": 0.775, "color": "#fff"}, {"offset": 0.8083, "color": "#fff"},
                  {"offset": 0.8333, "color": "#222"}, {"offset": 0.8583, "color": "#fff"}, {"offset": 0.8917, "color": "#fff"},
                  {"offset": 0.9167, "color": "#222"}, {"offset": 0.9417, "color": "#fff"}, {"offset": 0.975, "color": "#fff"},
                  {"offset": 1, "color": "#222"}]}},
                {"test": "datum.group == 'SDW 1:2'", "value": {"gradient": "linear", "x1": 0, "y1": 0, "x2": 1, "y2": 0, "stops": [
                  {"offset": 0, "color": "#222"}, {"offset": 0.0273, "color": "#fff"}, {"offset": 0.0636, "color": "#fff"},
                  {"offset": 0.0909, "color": "#222"}, {"offset": 0.1182, "color": "#fff"}, {"offset": 0.1545, "color": "#fff"},
                  {"offset": 0.1818, "color": "#222"}, {"offset": 0.2091, "color": "#fff"}, {"offset": 0.2455, "color": "#fff"},
                  {"offset": 0.2727, "color": "#222"}, {"offset": 0.3, "color": "#fff"}, {"offset": 0.3364, "color": "#fff"},
                  {"offset": 0.3636, "color": "#222"}, {"offset": 0.3909, "color": "#fff"}, {"offset": 0.4273, "color": "#fff"},
                  {"offset": 0.4545, "color": "#222"}, {"offset": 0.4818, "color": "#fff"}, {"offset": 0.5182, "color": "#fff"},
                  {"offset": 0.5455, "color": "#222"}, {"offset": 0.5727, "color": "#fff"}, {"offset": 0.6091, "color": "#fff"},
                  {"offset": 0.6364, "color": "#222"}, {"offset": 0.6636, "color": "#fff"}, {"offset": 0.7, "color": "#fff"},
                  {"offset": 0.7273, "color": "#222"}, {"offset": 0.7545, "color": "#fff"}, {"offset": 0.7909, "color": "#fff"},
                  {"offset": 0.8182, "color": "#222"}, {"offset": 0.8455, "color": "#fff"}, {"offset": 0.8818, "color": "#fff"},
                  {"offset": 0.9091, "color": "#222"}, {"offset": 0.9364, "color": "#fff"}, {"offset": 0.9727, "color": "#fff"},
                  {"offset": 1, "color": "#222"}]}},
                {"test": "datum.group == 'SDW 2:1'", "value": {"gradient": "linear", "x1": 0, "y1": 0, "x2": 1, "y2": 1, "stops": [
                  {"offset": 0, "color": "#444"}, {"offset": 0.03125, "color": "#fff"}, {"offset": 0.0625, "color": "#444"}, {"offset": 0.09375, "color": "#fff"},
                  {"offset": 0.125, "color": "#444"}, {"offset": 0.15625, "color": "#fff"}, {"offset": 0.1875, "color": "#444"}, {"offset": 0.21875, "color": "#fff"},
                  {"offset": 0.25, "color": "#444"}, {"offset": 0.28125, "color": "#fff"}, {"offset": 0.3125, "color": "#444"}, {"offset": 0.34375, "color": "#fff"},
                  {"offset": 0.375, "color": "#444"}, {"offset": 0.40625, "color": "#fff"}, {"offset": 0.4375, "color": "#444"}, {"offset": 0.46875, "color": "#fff"},
                  {"offset": 0.5, "color": "#444"}, {"offset": 0.53125, "color": "#fff"}, {"offset": 0.5625, "color": "#444"}, {"offset": 0.59375, "color": "#fff"},
                  {"offset": 0.625, "color": "#444"}, {"offset": 0.65625, "color": "#fff"}, {"offset": 0.6875, "color": "#444"}, {"offset": 0.71875, "color": "#fff"},
                  {"offset": 0.75, "color": "#444"}, {"offset": 0.78125, "color": "#fff"}, {"offset": 0.8125, "color": "#444"}, {"offset": 0.84375, "color": "#fff"},
                  {"offset": 0.875, "color": "#444"}, {"offset": 0.90625, "color": "#fff"}, {"offset": 0.9375, "color": "#444"}, {"offset": 0.96875, "color": "#fff"},
                  {"offset": 1, "color": "#444"}]}}
              ],
              "value": "#7a7a7a"
            }
          }
        },
        {
          "transform": [{"filter": "datum.group == 'Model group'"}],
          "mark": {"type": "bar", "blend": "difference", "strokeWidth": 0},
          "encoding": {
            "y": {"field": "value", "type": "quantitative", "scale": {"domain": [0.8, 2.4], "zero": false, "nice": false}, "axis": {"title": "p38/GAPDH", "values": [0.8, 1.6, 2.4], "format": ".2f"}},
            "y2": {"datum": 0.8},
            "fill": {"value": {"gradient": "linear", "x1": 0, "y1": 0, "x2": 0, "y2": 1, "stops": [
              {"offset": 0, "color": "#000"}, {"offset": 0.0263, "color": "#000"}, {"offset": 0.0263, "color": "#fff"}, {"offset": 0.0526, "color": "#fff"},
              {"offset": 0.0526, "color": "#000"}, {"offset": 0.0789, "color": "#000"}, {"offset": 0.0789, "color": "#fff"}, {"offset": 0.1053, "color": "#fff"},
              {"offset": 0.1053, "color": "#000"}, {"offset": 0.1316, "color": "#000"}, {"offset": 0.1316, "color": "#fff"}, {"offset": 0.1579, "color": "#fff"},
              {"offset": 0.1579, "color": "#000"}, {"offset": 0.1842, "color": "#000"}, {"offset": 0.1842, "color": "#fff"}, {"offset": 0.2105, "color": "#fff"},
              {"offset": 0.2105, "color": "#000"}, {"offset": 0.2368, "color": "#000"}, {"offset": 0.2368, "color": "#fff"}, {"offset": 0.2632, "color": "#fff"},
              {"offset": 0.2632, "color": "#000"}, {"offset": 0.2895, "color": "#000"}, {"offset": 0.2895, "color": "#fff"}, {"offset": 0.3158, "color": "#fff"},
              {"offset": 0.3158, "color": "#000"}, {"offset": 0.3421, "color": "#000"}, {"offset": 0.3421, "color": "#fff"}, {"offset": 0.3684, "color": "#fff"},
              {"offset": 0.3684, "color": "#000"}, {"offset": 0.3947, "color": "#000"}, {"offset": 0.3947, "color": "#fff"}, {"offset": 0.4211, "color": "#fff"},
              {"offset": 0.4211, "color": "#000"}, {"offset": 0.4474, "color": "#000"}, {"offset": 0.4474, "color": "#fff"}, {"offset": 0.4737, "color": "#fff"},
              {"offset": 0.4737, "color": "#000"}, {"offset": 0.5, "color": "#000"}, {"offset": 0.5, "color": "#fff"}, {"offset": 0.5263, "color": "#fff"},
              {"offset": 0.5263, "color": "#000"}, {"offset": 0.5526, "color": "#000"}, {"offset": 0.5526, "color": "#fff"}, {"offset": 0.5789, "color": "#fff"},
              {"offset": 0.5789, "color": "#000"}, {"offset": 0.6053, "color": "#000"}, {"offset": 0.6053, "color": "#fff"}, {"offset": 0.6316, "color": "#fff"},
              {"offset": 0.6316, "color": "#000"}, {"offset": 0.6579, "color": "#000"}, {"offset": 0.6579, "color": "#fff"}, {"offset": 0.6842, "color": "#fff"},
              {"offset": 0.6842, "color": "#000"}, {"offset": 0.7105, "color": "#000"}, {"offset": 0.7105, "color": "#fff"}, {"offset": 0.7368, "color": "#fff"},
              {"offset": 0.7368, "color": "#000"}, {"offset": 0.7632, "color": "#000"}, {"offset": 0.7632, "color": "#fff"}, {"offset": 0.7895, "color": "#fff"},
              {"offset": 0.7895, "color": "#000"}, {"offset": 0.8158, "color": "#000"}, {"offset": 0.8158, "color": "#fff"}, {"offset": 0.8421, "color": "#fff"},
              {"offset": 0.8421, "color": "#000"}, {"offset": 0.8684, "color": "#000"}, {"offset": 0.8684, "color": "#fff"}, {"offset": 0.8947, "color": "#fff"},
              {"offset": 0.8947, "color": "#000"}, {"offset": 0.9211, "color": "#000"}, {"offset": 0.9211, "color": "#fff"}, {"offset": 0.9474, "color": "#fff"},
              {"offset": 0.9474, "color": "#000"}, {"offset": 0.9737, "color": "#000"}, {"offset": 0.9737, "color": "#fff"}, {"offset": 1, "color": "#fff"}]}}
          }
        },
        {"mark": {"type": "bar", "fill": "white", "fillOpacity": 0, "stroke": "black", "strokeWidth": 2.6}, "encoding": {"y": {"field": "value", "type": "quantitative", "scale": {"domain": [0.8, 2.4], "zero": false, "nice": false}, "axis": {"title": "p38/GAPDH", "values": [0.8, 1.6, 2.4], "format": ".2f"}}, "y2": {"datum": 0.8}}},
        {"transform": [{"filter": "datum.upper > datum.value"}], "mark": {"type": "rule", "color": "black", "strokeWidth": 2}, "encoding": {"y": {"field": "value", "type": "quantitative", "scale": {"domain": [0.8, 2.4], "zero": false, "nice": false}, "axis": {"title": "p38/GAPDH", "values": [0.8, 1.6, 2.4], "format": ".2f"}}, "y2": {"field": "upper"}}},
        {"transform": [{"filter": "datum.upper > datum.value"}], "mark": {"type": "tick", "color": "black", "opacity": 1, "size": 20, "thickness": 2}, "encoding": {"y": {"field": "upper", "type": "quantitative", "scale": {"domain": [0.8, 2.4], "zero": false, "nice": false}, "axis": {"title": "p38/GAPDH", "values": [0.8, 1.6, 2.4], "format": ".2f"}}}},
        {"mark": {"type": "text", "align": "right", "baseline": "alphabetic", "font": "Liberation Sans", "fontWeight": "bold", "fontSize": 15, "color": "#222", "dy": 3.7, "dx": {"expr": "(length(datum.black)*5.8 - length(datum.gray)*8.6)/2"}}, "encoding": {"y": {"field": "upper", "type": "quantitative", "scale": {"domain": [0.8, 2.4], "zero": false, "nice": false}, "axis": {"title": "p38/GAPDH", "values": [0.8, 1.6, 2.4], "format": ".2f"}}, "text": {"field": "black"}}},
        {"mark": {"type": "text", "align": "left", "baseline": "alphabetic", "font": "DejaVu Sans", "fontSize": 11, "color": "#8a8a8a", "dy": -4.5, "dx": {"expr": "(length(datum.black)*5.8 - length(datum.gray)*8.6)/2"}}, "encoding": {"y": {"field": "upper", "type": "quantitative", "scale": {"domain": [0.8, 2.4], "zero": false, "nice": false}, "axis": {"title": "p38/GAPDH", "values": [0.8, 1.6, 2.4], "format": ".2f"}}, "text": {"field": "gray"}}}
      ]
    },
    {
      "title": {"text": "D", "offset": -4},
      "width": 272,
      "height": 181,
      "data": {"name": "bars"},
      "transform": [{"filter": "datum.panel == 'D'"}],
      "encoding": {"x": {"field": "group", "type": "nominal", "sort": null, "scale": {"domain": ["Control group", "Model group", "SDW 1:1", "SDW 1:2", "SDW 2:1"], "paddingInner": 0.31, "paddingOuter": 0.17}}},
      "layer": [
        {
          "mark": {"type": "bar", "stroke": "black", "strokeWidth": 2.6},
          "encoding": {
            "y": {"field": "value", "type": "quantitative", "scale": {"domain": [0.8, 2.4], "zero": false, "nice": false}, "axis": {"title": "p53/GAPDH", "values": [0.8, 1.6, 2.4], "format": ".2f"}},
            "y2": {"datum": 0.8},
            "fill": {
              "condition": [
                {"test": "datum.group == 'Model group'", "value": {"gradient": "linear", "x1": 0, "y1": 0, "x2": 1, "y2": 0, "stops": [
                  {"offset": 0, "color": "#000"}, {"offset": 0.0909, "color": "#000"}, {"offset": 0.0909, "color": "#fff"}, {"offset": 0.1818, "color": "#fff"},
                  {"offset": 0.1818, "color": "#000"}, {"offset": 0.2727, "color": "#000"}, {"offset": 0.2727, "color": "#fff"}, {"offset": 0.3636, "color": "#fff"},
                  {"offset": 0.3636, "color": "#000"}, {"offset": 0.4545, "color": "#000"}, {"offset": 0.4545, "color": "#fff"}, {"offset": 0.5455, "color": "#fff"},
                  {"offset": 0.5455, "color": "#000"}, {"offset": 0.6364, "color": "#000"}, {"offset": 0.6364, "color": "#fff"}, {"offset": 0.7273, "color": "#fff"},
                  {"offset": 0.7273, "color": "#000"}, {"offset": 0.8182, "color": "#000"}, {"offset": 0.8182, "color": "#fff"}, {"offset": 0.9091, "color": "#fff"},
                  {"offset": 0.9091, "color": "#000"}, {"offset": 1, "color": "#000"}]}},
                {"test": "datum.group == 'SDW 1:1'", "value": {"gradient": "linear", "x1": 0, "y1": 0, "x2": 0, "y2": 1, "stops": [
                  {"offset": 0, "color": "#222"}, {"offset": 0.0214, "color": "#fff"}, {"offset": 0.05, "color": "#fff"},
                  {"offset": 0.0714, "color": "#222"}, {"offset": 0.0929, "color": "#fff"}, {"offset": 0.1214, "color": "#fff"},
                  {"offset": 0.1429, "color": "#222"}, {"offset": 0.1643, "color": "#fff"}, {"offset": 0.1929, "color": "#fff"},
                  {"offset": 0.2143, "color": "#222"}, {"offset": 0.2357, "color": "#fff"}, {"offset": 0.2643, "color": "#fff"},
                  {"offset": 0.2857, "color": "#222"}, {"offset": 0.3071, "color": "#fff"}, {"offset": 0.3357, "color": "#fff"},
                  {"offset": 0.3571, "color": "#222"}, {"offset": 0.3786, "color": "#fff"}, {"offset": 0.4071, "color": "#fff"},
                  {"offset": 0.4286, "color": "#222"}, {"offset": 0.45, "color": "#fff"}, {"offset": 0.4786, "color": "#fff"},
                  {"offset": 0.5, "color": "#222"}, {"offset": 0.5214, "color": "#fff"}, {"offset": 0.55, "color": "#fff"},
                  {"offset": 0.5714, "color": "#222"}, {"offset": 0.5929, "color": "#fff"}, {"offset": 0.6214, "color": "#fff"},
                  {"offset": 0.6429, "color": "#222"}, {"offset": 0.6643, "color": "#fff"}, {"offset": 0.6929, "color": "#fff"},
                  {"offset": 0.7143, "color": "#222"}, {"offset": 0.7357, "color": "#fff"}, {"offset": 0.7643, "color": "#fff"},
                  {"offset": 0.7857, "color": "#222"}, {"offset": 0.8071, "color": "#fff"}, {"offset": 0.8357, "color": "#fff"},
                  {"offset": 0.8571, "color": "#222"}, {"offset": 0.8786, "color": "#fff"}, {"offset": 0.9071, "color": "#fff"},
                  {"offset": 0.9286, "color": "#222"}, {"offset": 0.95, "color": "#fff"}, {"offset": 0.9786, "color": "#fff"},
                  {"offset": 1, "color": "#222"}]}},
                {"test": "datum.group == 'SDW 1:2'", "value": {"gradient": "linear", "x1": 0, "y1": 0, "x2": 1, "y2": 0, "stops": [
                  {"offset": 0, "color": "#222"}, {"offset": 0.0273, "color": "#fff"}, {"offset": 0.0636, "color": "#fff"},
                  {"offset": 0.0909, "color": "#222"}, {"offset": 0.1182, "color": "#fff"}, {"offset": 0.1545, "color": "#fff"},
                  {"offset": 0.1818, "color": "#222"}, {"offset": 0.2091, "color": "#fff"}, {"offset": 0.2455, "color": "#fff"},
                  {"offset": 0.2727, "color": "#222"}, {"offset": 0.3, "color": "#fff"}, {"offset": 0.3364, "color": "#fff"},
                  {"offset": 0.3636, "color": "#222"}, {"offset": 0.3909, "color": "#fff"}, {"offset": 0.4273, "color": "#fff"},
                  {"offset": 0.4545, "color": "#222"}, {"offset": 0.4818, "color": "#fff"}, {"offset": 0.5182, "color": "#fff"},
                  {"offset": 0.5455, "color": "#222"}, {"offset": 0.5727, "color": "#fff"}, {"offset": 0.6091, "color": "#fff"},
                  {"offset": 0.6364, "color": "#222"}, {"offset": 0.6636, "color": "#fff"}, {"offset": 0.7, "color": "#fff"},
                  {"offset": 0.7273, "color": "#222"}, {"offset": 0.7545, "color": "#fff"}, {"offset": 0.7909, "color": "#fff"},
                  {"offset": 0.8182, "color": "#222"}, {"offset": 0.8455, "color": "#fff"}, {"offset": 0.8818, "color": "#fff"},
                  {"offset": 0.9091, "color": "#222"}, {"offset": 0.9364, "color": "#fff"}, {"offset": 0.9727, "color": "#fff"},
                  {"offset": 1, "color": "#222"}]}},
                {"test": "datum.group == 'SDW 2:1'", "value": {"gradient": "linear", "x1": 0, "y1": 0, "x2": 1, "y2": 1, "stops": [
                  {"offset": 0, "color": "#444"}, {"offset": 0.03125, "color": "#fff"}, {"offset": 0.0625, "color": "#444"}, {"offset": 0.09375, "color": "#fff"},
                  {"offset": 0.125, "color": "#444"}, {"offset": 0.15625, "color": "#fff"}, {"offset": 0.1875, "color": "#444"}, {"offset": 0.21875, "color": "#fff"},
                  {"offset": 0.25, "color": "#444"}, {"offset": 0.28125, "color": "#fff"}, {"offset": 0.3125, "color": "#444"}, {"offset": 0.34375, "color": "#fff"},
                  {"offset": 0.375, "color": "#444"}, {"offset": 0.40625, "color": "#fff"}, {"offset": 0.4375, "color": "#444"}, {"offset": 0.46875, "color": "#fff"},
                  {"offset": 0.5, "color": "#444"}, {"offset": 0.53125, "color": "#fff"}, {"offset": 0.5625, "color": "#444"}, {"offset": 0.59375, "color": "#fff"},
                  {"offset": 0.625, "color": "#444"}, {"offset": 0.65625, "color": "#fff"}, {"offset": 0.6875, "color": "#444"}, {"offset": 0.71875, "color": "#fff"},
                  {"offset": 0.75, "color": "#444"}, {"offset": 0.78125, "color": "#fff"}, {"offset": 0.8125, "color": "#444"}, {"offset": 0.84375, "color": "#fff"},
                  {"offset": 0.875, "color": "#444"}, {"offset": 0.90625, "color": "#fff"}, {"offset": 0.9375, "color": "#444"}, {"offset": 0.96875, "color": "#fff"},
                  {"offset": 1, "color": "#444"}]}}
              ],
              "value": "#7a7a7a"
            }
          }
        },
        {
          "transform": [{"filter": "datum.group == 'Model group'"}],
          "mark": {"type": "bar", "blend": "difference", "strokeWidth": 0},
          "encoding": {
            "y": {"field": "value", "type": "quantitative", "scale": {"domain": [0.8, 2.4], "zero": false, "nice": false}, "axis": {"title": "p53/GAPDH", "values": [0.8, 1.6, 2.4], "format": ".2f"}},
            "y2": {"datum": 0.8},
            "fill": {"value": {"gradient": "linear", "x1": 0, "y1": 0, "x2": 0, "y2": 1, "stops": [
              {"offset": 0, "color": "#000"}, {"offset": 0.0238, "color": "#000"}, {"offset": 0.0238, "color": "#fff"}, {"offset": 0.0476, "color": "#fff"},
              {"offset": 0.0476, "color": "#000"}, {"offset": 0.0714, "color": "#000"}, {"offset": 0.0714, "color": "#fff"}, {"offset": 0.0952, "color": "#fff"},
              {"offset": 0.0952, "color": "#000"}, {"offset": 0.119, "color": "#000"}, {"offset": 0.119, "color": "#fff"}, {"offset": 0.1429, "color": "#fff"},
              {"offset": 0.1429, "color": "#000"}, {"offset": 0.1667, "color": "#000"}, {"offset": 0.1667, "color": "#fff"}, {"offset": 0.1905, "color": "#fff"},
              {"offset": 0.1905, "color": "#000"}, {"offset": 0.2143, "color": "#000"}, {"offset": 0.2143, "color": "#fff"}, {"offset": 0.2381, "color": "#fff"},
              {"offset": 0.2381, "color": "#000"}, {"offset": 0.2619, "color": "#000"}, {"offset": 0.2619, "color": "#fff"}, {"offset": 0.2857, "color": "#fff"},
              {"offset": 0.2857, "color": "#000"}, {"offset": 0.3095, "color": "#000"}, {"offset": 0.3095, "color": "#fff"}, {"offset": 0.3333, "color": "#fff"},
              {"offset": 0.3333, "color": "#000"}, {"offset": 0.3571, "color": "#000"}, {"offset": 0.3571, "color": "#fff"}, {"offset": 0.381, "color": "#fff"},
              {"offset": 0.381, "color": "#000"}, {"offset": 0.4048, "color": "#000"}, {"offset": 0.4048, "color": "#fff"}, {"offset": 0.4286, "color": "#fff"},
              {"offset": 0.4286, "color": "#000"}, {"offset": 0.4524, "color": "#000"}, {"offset": 0.4524, "color": "#fff"}, {"offset": 0.4762, "color": "#fff"},
              {"offset": 0.4762, "color": "#000"}, {"offset": 0.5, "color": "#000"}, {"offset": 0.5, "color": "#fff"}, {"offset": 0.5238, "color": "#fff"},
              {"offset": 0.5238, "color": "#000"}, {"offset": 0.5476, "color": "#000"}, {"offset": 0.5476, "color": "#fff"}, {"offset": 0.5714, "color": "#fff"},
              {"offset": 0.5714, "color": "#000"}, {"offset": 0.5952, "color": "#000"}, {"offset": 0.5952, "color": "#fff"}, {"offset": 0.619, "color": "#fff"},
              {"offset": 0.619, "color": "#000"}, {"offset": 0.6429, "color": "#000"}, {"offset": 0.6429, "color": "#fff"}, {"offset": 0.6667, "color": "#fff"},
              {"offset": 0.6667, "color": "#000"}, {"offset": 0.6905, "color": "#000"}, {"offset": 0.6905, "color": "#fff"}, {"offset": 0.7143, "color": "#fff"},
              {"offset": 0.7143, "color": "#000"}, {"offset": 0.7381, "color": "#000"}, {"offset": 0.7381, "color": "#fff"}, {"offset": 0.7619, "color": "#fff"},
              {"offset": 0.7619, "color": "#000"}, {"offset": 0.7857, "color": "#000"}, {"offset": 0.7857, "color": "#fff"}, {"offset": 0.8095, "color": "#fff"},
              {"offset": 0.8095, "color": "#000"}, {"offset": 0.8333, "color": "#000"}, {"offset": 0.8333, "color": "#fff"}, {"offset": 0.8571, "color": "#fff"},
              {"offset": 0.8571, "color": "#000"}, {"offset": 0.881, "color": "#000"}, {"offset": 0.881, "color": "#fff"}, {"offset": 0.9048, "color": "#fff"},
              {"offset": 0.9048, "color": "#000"}, {"offset": 0.9286, "color": "#000"}, {"offset": 0.9286, "color": "#fff"}, {"offset": 0.9524, "color": "#fff"},
              {"offset": 0.9524, "color": "#000"}, {"offset": 0.9762, "color": "#000"}, {"offset": 0.9762, "color": "#fff"}, {"offset": 1, "color": "#fff"}]}}
          }
        },
        {"mark": {"type": "bar", "fill": "white", "fillOpacity": 0, "stroke": "black", "strokeWidth": 2.6}, "encoding": {"y": {"field": "value", "type": "quantitative", "scale": {"domain": [0.8, 2.4], "zero": false, "nice": false}, "axis": {"title": "p53/GAPDH", "values": [0.8, 1.6, 2.4], "format": ".2f"}}, "y2": {"datum": 0.8}}},
        {"transform": [{"filter": "datum.upper > datum.value"}], "mark": {"type": "rule", "color": "black", "strokeWidth": 2}, "encoding": {"y": {"field": "value", "type": "quantitative", "scale": {"domain": [0.8, 2.4], "zero": false, "nice": false}, "axis": {"title": "p53/GAPDH", "values": [0.8, 1.6, 2.4], "format": ".2f"}}, "y2": {"field": "upper"}}},
        {"transform": [{"filter": "datum.upper > datum.value"}], "mark": {"type": "tick", "color": "black", "opacity": 1, "size": 20, "thickness": 2}, "encoding": {"y": {"field": "upper", "type": "quantitative", "scale": {"domain": [0.8, 2.4], "zero": false, "nice": false}, "axis": {"title": "p53/GAPDH", "values": [0.8, 1.6, 2.4], "format": ".2f"}}}},
        {"mark": {"type": "text", "align": "right", "baseline": "alphabetic", "font": "Liberation Sans", "fontWeight": "bold", "fontSize": 15, "color": "#222", "dy": 3.7, "dx": {"expr": "(length(datum.black)*5.8 - length(datum.gray)*8.6)/2"}}, "encoding": {"y": {"field": "upper", "type": "quantitative", "scale": {"domain": [0.8, 2.4], "zero": false, "nice": false}, "axis": {"title": "p53/GAPDH", "values": [0.8, 1.6, 2.4], "format": ".2f"}}, "text": {"field": "black"}}},
        {"mark": {"type": "text", "align": "left", "baseline": "alphabetic", "font": "DejaVu Sans", "fontSize": 11, "color": "#8a8a8a", "dy": -4.5, "dx": {"expr": "(length(datum.black)*5.8 - length(datum.gray)*8.6)/2"}}, "encoding": {"y": {"field": "upper", "type": "quantitative", "scale": {"domain": [0.8, 2.4], "zero": false, "nice": false}, "axis": {"title": "p53/GAPDH", "values": [0.8, 1.6, 2.4], "format": ".2f"}}, "text": {"field": "gray"}}}
      ]
    }
  ],
  "config": {
    "view": {"stroke": null},
    "font": "Liberation Sans",
    "title": {"anchor": "start", "frame": "bounds", "font": "Liberation Serif", "fontSize": 17, "fontWeight": "normal", "color": "black", "offset": -10},
    "axis": {"domainColor": "black", "domainWidth": 1.7, "tickColor": "black", "tickWidth": 1.7, "labelColor": "black", "labelFont": "Liberation Sans", "titleFont": "Liberation Sans", "titleColor": "black", "titleFontWeight": "normal", "grid": false},
    "axisX": {"title": null, "labelAngle": -45, "labelAlign": "right", "labelBaseline": "middle", "labelFontSize": 12, "tickSize": 5, "labelPadding": 5},
    "axisY": {"labelFontSize": 11, "titleFontSize": 11, "tickSize": 5, "labelPadding": 4, "titlePadding": 7}
  }
}
